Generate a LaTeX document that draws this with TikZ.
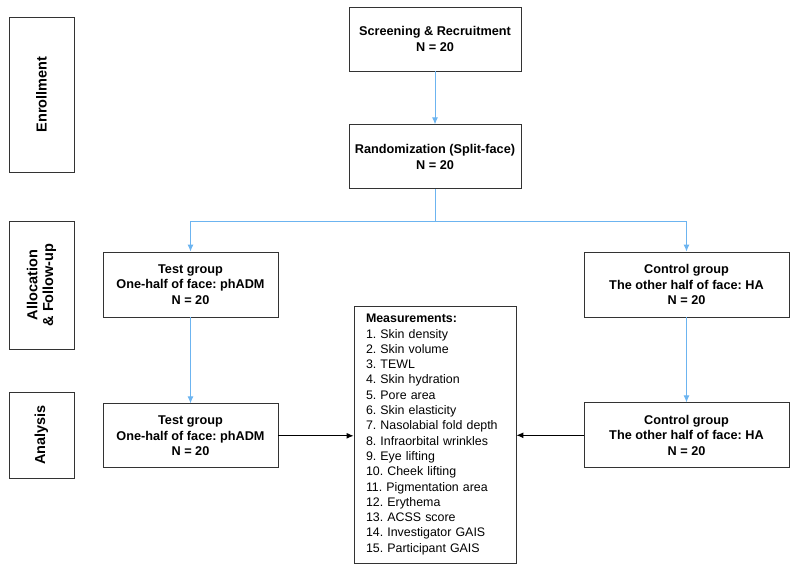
\documentclass[tikz,border=0pt]{standalone}
\usepackage{fontspec}
\setmainfont{Liberation Sans}
\usetikzlibrary{arrows.meta, positioning}
\definecolor{flowblue}{HTML}{6CB4F0}
\definecolor{boxline}{HTML}{333333}
\frenchspacing

\begin{document}
\begin{tikzpicture}[
    x=1pt, y=1pt,
    % ── Node styles ──────────────────────────────────────────────────────
    base/.style={
        draw=boxline, line width=0.8pt, align=center, inner sep=4pt,
        font=\fontsize{12.7}{15.5}\selectfont
    },
    stagebox/.style={
        base, minimum width=65pt
    },
    stagetext/.style={
        rotate=90, align=center,
        font=\fontsize{14.5}{16}\selectfont\bfseries
    },
    stepbox/.style={
        base, minimum width=172pt, minimum height=64pt,
        font=\fontsize{12.7}{16}\selectfont\bfseries
    },
    groupbox/.style={
        base, minimum height=65pt,
        font=\fontsize{12.7}{15.5}\selectfont\bfseries
    },
    listbox/.style={
        base, align=left, minimum width=162pt, minimum height=257pt,
        text width=138pt, inner sep=6pt,
        font=\fontsize{12.4}{15.3}\selectfont
    },
    % ── Arrow styles ─────────────────────────────────────────────────────
    bluearr/.style={
        -{Latex[length=7pt, width=6pt]},
        line width=1pt, color=flowblue
    },
    blackarr/.style={
        -{Latex[length=7pt, width=6pt]},
        line width=1pt, color=black
    }
]
\useasboundingbox (0,0) rectangle (795,-570);

% Stage labels
\node[stagebox, minimum height=155pt] (enroll) at (41.5,-94.5) {};
\node[stagetext] at (enroll.center) {Enrollment};
\node[stagebox, minimum height=128pt] (alloc) at (41.5,-285) {};
\node[stagetext] at (alloc.center) {Allocation\\\& Follow-up};
\node[stagebox, minimum height=86pt] (analysis) at (41.5,-435) {};
\node[stagetext] at (analysis.center) {Analysis};

% Enrollment
\node[stepbox] (screen) at (435,-39)
    {Screening \& Recruitment\\N = 20};
\node[stepbox, below=53pt of screen] (random)
    {Randomization (Split-face)\\N = 20};
\coordinate (split) at ([yshift=-32.5pt]random.south);

% Allocation
\node[groupbox, minimum width=175pt] (testA) at (190.5,-284.5)
    {Test group\\One-half of face: phADM\\N = 20};
\node[groupbox, minimum width=205pt] (ctrlA) at (686.5,-284.5)
    {Control group\\The other half of face: HA\\N = 20};

% Analysis
\node[groupbox, minimum width=175pt, minimum height=64pt, below=86pt of testA] (testB)
    {Test group\\One-half of face: phADM\\N = 20};
\node[groupbox, minimum width=205pt, below=85pt of ctrlA] (ctrlB)
    {Control group\\The other half of face: HA\\N = 20};

% Measurements
\node[listbox] (meas) at (435,-434.5)
    {\textbf{Measurements:}\\
     1. Skin density\\
     2. Skin volume\\
     3. TEWL\\
     4. Skin hydration\\
     5. Pore area\\
     6. Skin elasticity\\
     7. Nasolabial fold depth\\
     8. Infraorbital wrinkles\\
     9. Eye lifting\\
     10. Cheek lifting\\
     11. Pigmentation area\\
     12. Erythema\\
     13. ACSS score\\
     14. Investigator GAIS\\
     15. Participant GAIS};

% Arrows
\draw[bluearr] (screen) -- (random);
\draw[line width=1pt, flowblue] (random.south) -- (split);
\draw[bluearr] (split) -| (testA.north);
\draw[bluearr] (split) -| (ctrlA.north);
\draw[bluearr] (testA) -- (testB);
\draw[bluearr] (ctrlA) -- (ctrlB);
\draw[blackarr] (testB.east) -- (testB.east -| meas.west);
\draw[blackarr] (ctrlB.west) -- (ctrlB.west -| meas.east);

\end{tikzpicture}
\end{document}
